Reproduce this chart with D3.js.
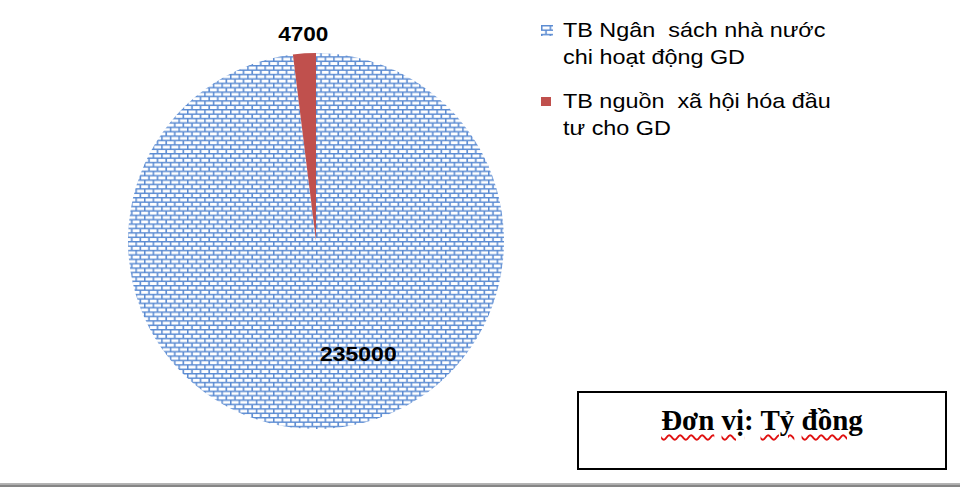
<!DOCTYPE html>
<html lang="vi">
<head>
    <meta charset="UTF-8">
    <title>Ngân sách giáo dục</title>
    <script type="text/javascript" src="https://cdn.jsdelivr.net/npm/d3@7/dist/d3.min.js"></script>
    <style>
        body { margin: 0; background: #fff; }
        #wrap { position: relative; width: 960px; height: 487px; overflow: hidden; }
        #unit {
            position: absolute;
            font-family: "Liberation Serif", "Times New Roman", serif;
            font-weight: bold;
            font-size: 29px;
            color: #000;
            white-space: pre;
        }
        #unit span {
            text-decoration: underline wavy #e01010;
            text-decoration-thickness: 1.5px;
            text-underline-offset: 4px;
        }
    </style>
</head>
<body>
<div id="wrap"></div>

<script>
    // dữ liệu
    const categories = ["TB Ngân sách nhà nước chi hoạt động GD", "TB nguồn xã hội hóa đầu tư cho GD"];
    const legendLines = [["TB Ngân  sách nhà nước", "chi hoạt động GD"], ["TB nguồn  xã hội hóa đầu", "tư cho GD"]];
    const values = [235000, 4700];
    const unitWords = ["Đơn", " ", "vị", ": ", "Tỷ", " ", "đồng"];

    const w = 960, h = 487;
    const cx = 316, cy = 241, r = 188;

    const svg = d3.select("#wrap")
        .append("svg")
        .attr("width", w)
        .attr("height", h)
        .style("position", "absolute")
        .style("left", 0)
        .style("top", 0);

    // họa tiết gạch
    const defs = svg.append("defs");
    const pat = defs.append("pattern")
        .attr("id", "brick")
        .attr("patternUnits", "userSpaceOnUse")
        .attr("width", 8.6)
        .attr("height", 8.8);
    pat.append("rect").attr("width", 8.6).attr("height", 8.8).attr("fill", "#fff");
    pat.append("path")
        .attr("d", "M0,0.7H8.6M0,5.1H8.6M0.7,0.7V5.1M5,5.1V8.8")
        .attr("stroke", "#5b8bd2")
        .attr("stroke-width", 1.6)
        .attr("fill", "none");

    const fills = ["url(#brick)", "#c0504d"];

    const pie = d3.pie().sort(null).value(d => d);
    const arcs = pie(values);
    const arc = d3.arc().innerRadius(0).outerRadius(r);

    const g = svg.append("g").attr("transform", `translate(${cx},${cy})`);
    g.selectAll("path")
        .data(arcs)
        .enter()
        .append("path")
        .attr("d", arc)
        .attr("fill", (d, i) => fills[i]);

    // nhãn số liệu
    const outerLabel = d3.arc().innerRadius(r + 19).outerRadius(r + 19);
    const innerLabel = d3.arc().innerRadius(113).outerRadius(113);

    function stretched(parent, x, y, sx, txt) {
        return parent.append("text")
            .attr("transform", `translate(${x},${y}) scale(${sx},1)`)
            .text(txt);
    }

    const lab = g.append("g")
        .attr("font-family", "'Liberation Sans', Arial, sans-serif")
        .attr("font-weight", "bold")
        .attr("font-size", "20px")
        .attr("fill", "#000");

    // 235000 bên trong
    const c0 = innerLabel.centroid(arcs[0]);
    stretched(lab, c0[0] - 3, c0[1] + 7, 1.15, d3.format("d")(values[0]))
        .attr("text-anchor", "start");
    // 4700 bên ngoài
    const c1 = outerLabel.centroid(arcs[1]);
    stretched(lab, c1[0], c1[1] + 7, 1.13, d3.format("d")(values[1]))
        .attr("text-anchor", "middle");

    // chú giải
    const legend = svg.append("g")
        .attr("font-family", "'Liberation Sans', Arial, sans-serif")
        .attr("font-size", "20px")
        .attr("fill", "#000");

    const item = legend.selectAll("g.item")
        .data(categories)
        .enter()
        .append("g")
        .attr("class", "item")
        .attr("transform", (d, i) => `translate(541,${25 + i * 71})`);

    item.append("rect")
        .attr("x", 0)
        .attr("y", (d, i) => i === 0 ? 0 : 1)
        .attr("width", (d, i) => i === 0 ? 12 : 10)
        .attr("height", (d, i) => i === 0 ? 11 : 9)
        .attr("fill", (d, i) => fills[i]);

    item.each(function (d, i) {
        const sel = d3.select(this);
        legendLines[i].forEach((ln, j) => {
            stretched(sel, 22, 12 + j * 27, 1.17, ln).attr("xml:space", "preserve");
        });
    });

    // khung đơn vị
    svg.append("rect")
        .attr("x", 578)
        .attr("y", 392)
        .attr("width", 368)
        .attr("height", 77)
        .attr("fill", "#fff")
        .attr("stroke", "#000")
        .attr("stroke-width", 2);

    const unit = d3.select("#wrap").append("div").attr("id", "unit");
    unitWords.forEach(wd => {
        if (/^[:\s]+$/.test(wd)) unit.append("text").text(wd);
        else unit.append("span").text(wd);
    });
    // căn giữa trong khung
    const uw = unit.node().getBoundingClientRect().width;
    unit.style("left", (762 - uw / 2) + "px").style("top", "404px");

    // viền dưới
    svg.append("rect").attr("x", 0).attr("y", 483).attr("width", w).attr("height", 1.5).attr("fill", "#b4b4b4");
    svg.append("rect").attr("x", 0).attr("y", 484.5).attr("width", w).attr("height", 3).attr("fill", "#858585");
</script>

</body>
</html>
